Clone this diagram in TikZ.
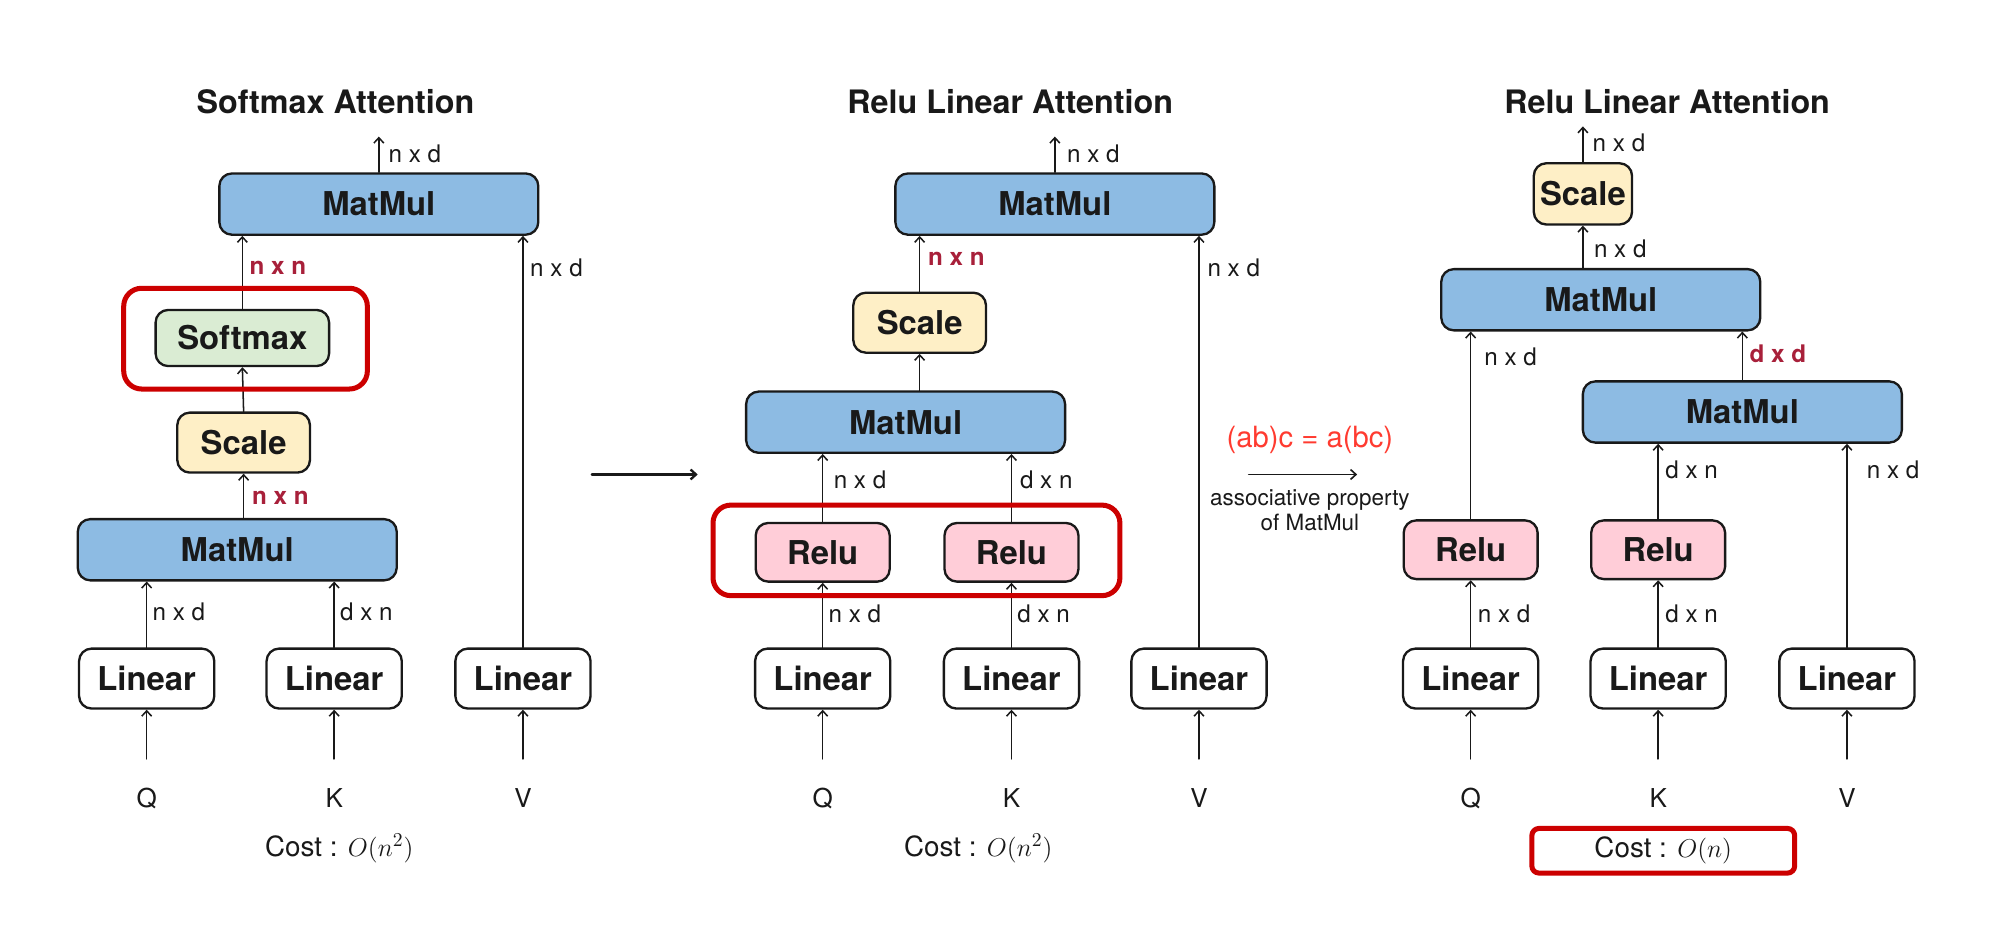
\documentclass[tikz,border=0pt]{standalone}
\usepackage{fontspec}
\setmainfont{TeX Gyre Heros}
\usepackage{amsmath}
\usepackage{tikz}
\usetikzlibrary{arrows.meta}
\definecolor{qqqqqq}{rgb}{0.1,0.1,0.1}
\definecolor{ccqqqq}{rgb}{0.8,0.,0.}
\definecolor{aaccee}{rgb}{0.553,0.733,0.890}
\definecolor{ffeecc}{rgb}{0.996,0.937,0.776}
\definecolor{ddeedd}{rgb}{0.855,0.925,0.827}
\definecolor{ffccdd}{rgb}{1.,0.804,0.847}
\definecolor{aaqq33}{rgb}{0.659,0.125,0.227}
\definecolor{ff3333}{rgb}{1.,0.231,0.188}
\tikzstyle{every node}=[font=\fontsize{13.5}{16}\selectfont, text=qqqqqq]
\tikzstyle{box}=[draw=qqqqqq, line width=1.3pt, rounded corners=7pt, inner sep=0pt, font=\bfseries\fontsize{18.3}{21}\selectfont]
\tikzstyle{matmul}=[box, fill=aaccee, minimum width=6.25cm, minimum height=1.2cm]
\tikzstyle{linear}=[box, fill=white, minimum width=2.65cm, minimum height=1.175cm]
\tikzstyle{relu}=[box, fill=ffccdd, minimum width=2.625cm, minimum height=1.15cm]
\tikzstyle{scalebox}=[box, fill=ffeecc, minimum width=2.6cm, minimum height=1.175cm]
\tikzstyle{softbox}=[box, fill=ddeedd, minimum width=3.4cm, minimum height=1.1cm]
\tikzstyle{dim}=[anchor=west, inner sep=1pt]
\tikzstyle{dimred}=[dim, text=aaqq33, font=\bfseries\fontsize{13.5}{16}\selectfont]
\tikzstyle{title}=[font=\bfseries\fontsize{18}{21}\selectfont]
\tikzstyle{inp}=[font=\fontsize{14.5}{17}\selectfont]
\tikzstyle{cost}=[font=\fontsize{15.5}{18}\selectfont]
\tikzstyle{hilite}=[draw=ccqqqq, line width=2.8pt, rounded corners=10pt]

\begin{document}
\begin{tikzpicture}[line cap=round,line join=round,>={Straight Barb[length=3pt,width=5.5pt]},x=0.025cm,y=-0.025cm]
\useasboundingbox[fill=white] (0,0) rectangle (1568,728);
\tikzstyle{arr}=[->, draw=qqqqqq, line width=0.85pt]

% Softmax attention
\node[title] (titleA) at (263,80) {Softmax Attention};
\node[matmul] (mmTopA) at (297,160) {MatMul};
\node[softbox] (softA) at (190,265) {Softmax};
\node[scalebox] (scaleA) at (191,347) {Scale};
\node[matmul] (mmLowA) at (186,431) {MatMul};
\node[linear] (linQA) at (115,532) {Linear};
\node[linear] (linKA) at (262,532) {Linear};
\node[linear] (linVA) at (410,532) {Linear};
\node[inp] (qA) at (115,626) {Q};
\node[inp] (kA) at (262,626) {K};
\node[inp] (vA) at (410,626) {V};
\draw[arr] (qA) ++(0,-31) -- (linQA.south);
\draw[arr] (kA) ++(0,-31) -- (linKA.south);
\draw[arr] (vA) ++(0,-31) -- (linVA.south);
\draw[arr] (linQA.north) -- (linQA.north |- mmLowA.south);
\node[dim] (dQA) at (118,480) {n x d};
\draw[arr] (linKA.north) -- (linKA.north |- mmLowA.south);
\node[dim] (dKA) at (265,480) {d x n};
\draw[arr] (scaleA.south |- mmLowA.north) -- (scaleA.south);
\node[dimred] (dSA) at (196,390) {n x n};
\draw[arr] (scaleA.north) -- (softA.south);
\draw[arr] (softA.north) -- (softA.north |- mmTopA.south);
\node[dimred] (dXA) at (194,210) {n x n};
\draw[arr] (linVA.north) -- (linVA.north |- mmTopA.south);
\node[dim] (dVA) at (414,210) {n x d};
\draw[arr] (mmTopA.north) -- ++(0,-28);
\node[dim] (dOA) at (303,121) {n x d};
\draw[hilite] (97,226) rectangle (288,305);
\node[cost] (costA) at (266,665) {Cost : $O(n^2)$};

\draw[->, draw=qqqqqq, line width=1.3pt] (464,372) coordinate (goL) -- (547,372) coordinate (goR);

% Relu linear attention
\node[title] (titleB) at (792,80) {Relu Linear Attention};
\node[matmul] (mmTopB) at (827,160) {MatMul};
\node[scalebox] (scaleB) at (721,253) {Scale};
\node[matmul] (mmMidB) at (710,331) {MatMul};
\node[relu] (reluQB) at (645,433) {Relu};
\node[relu] (reluKB) at (793,433) {Relu};
\node[linear] (linQB) at (645,532) {Linear};
\node[linear] (linKB) at (793,532) {Linear};
\node[linear] (linVB) at (940,532) {Linear};
\node[inp] (qB) at (645,626) {Q};
\node[inp] (kB) at (793,626) {K};
\node[inp] (vB) at (940,626) {V};
\draw[arr] (qB) ++(0,-31) -- (linQB.south);
\draw[arr] (kB) ++(0,-31) -- (linKB.south);
\draw[arr] (vB) ++(0,-31) -- (linVB.south);
\draw[arr] (linQB.north) -- (reluQB.south);
\node[dim] (dQB) at (648,481) {n x d};
\draw[arr] (linKB.north) -- (reluKB.south);
\node[dim] (dKB) at (796,481) {d x n};
\draw[arr] (reluQB.north) -- (reluQB.north |- mmMidB.south);
\node[dim] (dRQB) at (652,376) {n x d};
\draw[arr] (reluKB.north) -- (reluKB.north |- mmMidB.south);
\node[dim] (dRKB) at (798,376) {d x n};
\draw[arr] (scaleB.south |- mmMidB.north) -- (scaleB.south);
\draw[arr] (scaleB.north) -- (scaleB.north |- mmTopB.south);
\node[dimred] (dXB) at (726,203) {n x n};
\draw[arr] (linVB.north) -- (linVB.north |- mmTopB.south);
\node[dim] (dVB) at (945,210) {n x d};
\draw[arr] (mmTopB.north) -- ++(0,-28);
\node[dim] (dOB) at (835,121) {n x d};
\draw[hilite] (559,396) rectangle (878,467);
\node[cost] (costB) at (767,665) {Cost : $O(n^2)$};

\node[text=ff3333, font=\fontsize{16.3}{19}\selectfont] (assoc) at (1027,345) {(ab)c = a(bc)};
\draw[->, draw=qqqqqq, line width=0.9pt] (979,372) coordinate (eqL) -- (1064,372) coordinate (eqR);
\node[align=center, font=\fontsize{12.5}{14}\selectfont] (assocTxt) at (1027,400) {associative property\\of MatMul};

% Relu linear attention, reordered
\node[title] (titleC) at (1307,80) {Relu Linear Attention};
\node[scalebox, minimum width=1.925cm, minimum height=1.2cm] (scaleC) at (1241,152) {Scale};
\node[matmul] (mmTopC) at (1255,235) {MatMul};
\node[matmul] (mmLowC) at (1366,323) {MatMul};
\node[relu] (reluQC) at (1153,431) {Relu};
\node[relu] (reluKC) at (1300,431) {Relu};
\node[linear] (linQC) at (1153,532) {Linear};
\node[linear] (linKC) at (1300,532) {Linear};
\node[linear] (linVC) at (1448,532) {Linear};
\node[inp] (qC) at (1153,626) {Q};
\node[inp] (kC) at (1300,626) {K};
\node[inp] (vC) at (1448,626) {V};
\draw[arr] (qC) ++(0,-31) -- (linQC.south);
\draw[arr] (kC) ++(0,-31) -- (linKC.south);
\draw[arr] (vC) ++(0,-31) -- (linVC.south);
\draw[arr] (linQC.north) -- (reluQC.south);
\node[dim] (dQC) at (1157,481) {n x d};
\draw[arr] (linKC.north) -- (reluKC.south);
\node[dim] (dKC) at (1304,481) {d x n};
\draw[arr] (reluQC.north) -- (reluQC.north |- mmTopC.south);
\node[dim] (dRQC) at (1162,280) {n x d};
\draw[arr] (reluKC.north) -- (reluKC.north |- mmLowC.south);
\node[dim] (dRKC) at (1304,368) {d x n};
\draw[arr] (linVC.north) -- (linVC.north |- mmLowC.south);
\node[dim] (dVC) at (1462,368) {n x d};
\draw[arr] (mmLowC.north) -- (mmLowC.north |- mmTopC.south);
\node[dimred] (dDC) at (1370,277) {d x d};
\draw[arr] (scaleC.south |- mmTopC.north) -- (scaleC.south);
\node[dim] (dSC) at (1248,195) {n x d};
\draw[arr] (scaleC.north) -- ++(0,-28);
\node[dim] (dOC) at (1247,112) {n x d};
\node[cost, draw=ccqqqq, line width=2.8pt, rounded corners=4pt, minimum width=5.15cm, minimum height=0.875cm] (costC) at (1304,667) {Cost : $O(n)$};
\end{tikzpicture}
\end{document}
